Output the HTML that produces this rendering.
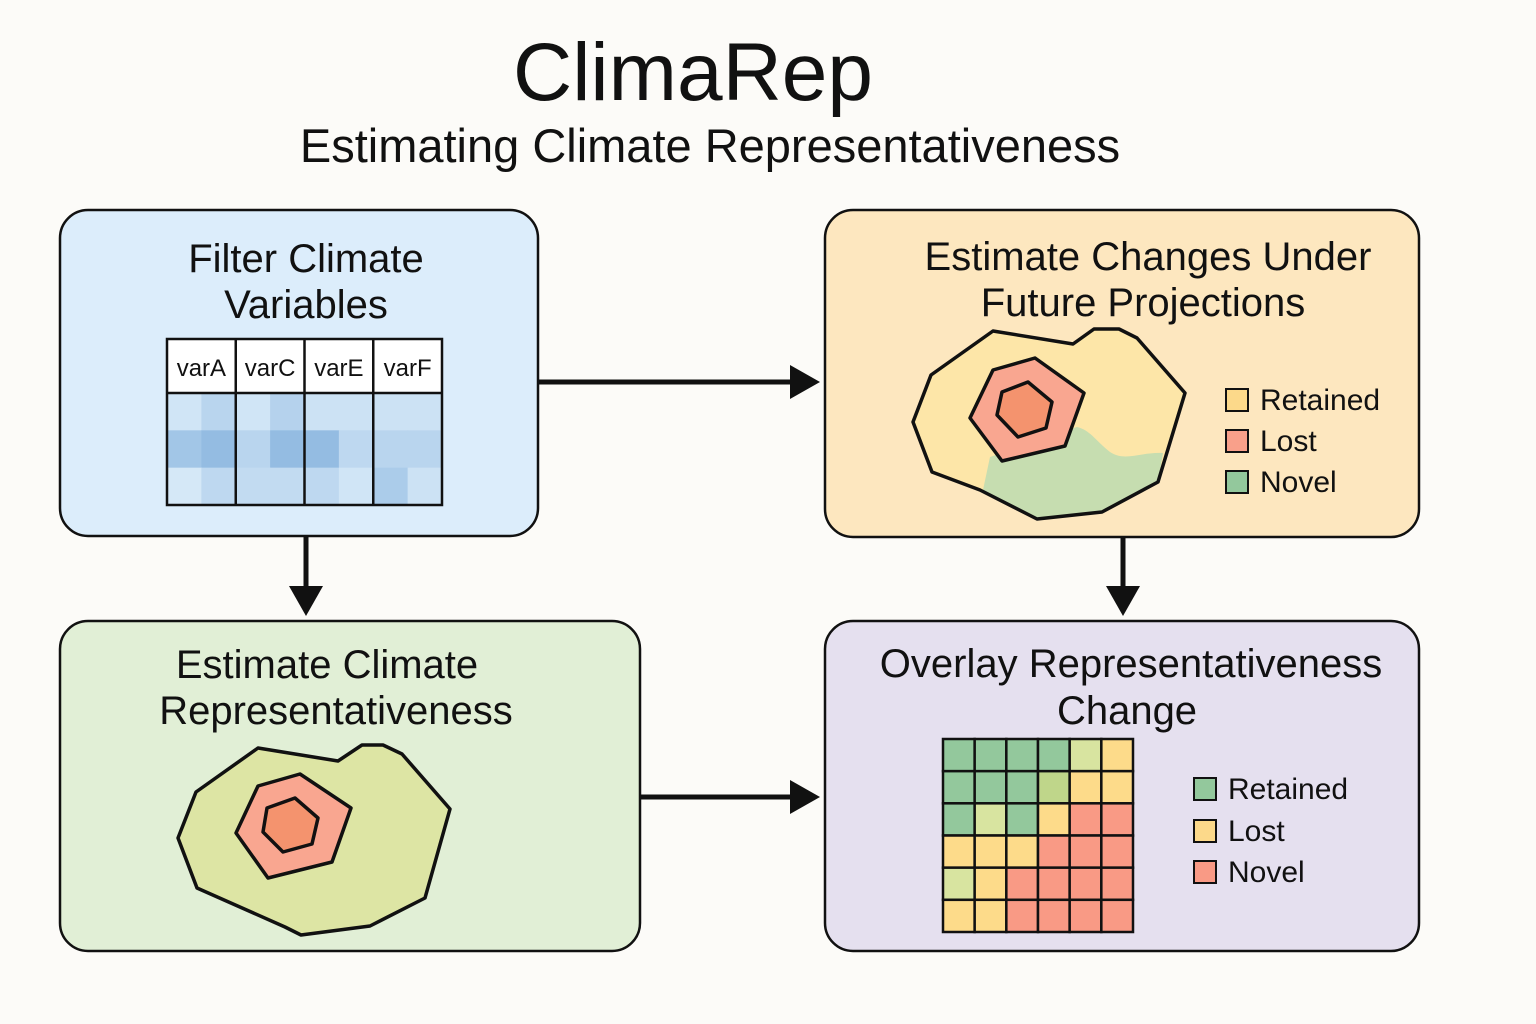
<!DOCTYPE html>
<html><head><meta charset="utf-8"><style>
html,body{margin:0;padding:0;background:#fcfbf8;}
svg{display:block;font-family:"Liberation Sans",sans-serif;}
</style></head><body>
<svg id="svg" width="1536" height="1024" viewBox="0 0 1536 1024">
<rect width="1536" height="1024" fill="#fcfbf8"/>
<text x="693" y="100" font-size="82" text-anchor="middle" fill="#111">ClimaRep</text>
<text x="710" y="162" font-size="47" text-anchor="middle" fill="#111">Estimating Climate Representativeness</text>

<g stroke="#111" stroke-width="5" fill="#111">
<line x1="538" y1="382" x2="795" y2="382"/>
<path d="M790,365 L820,382 L790,399 Z" stroke="none"/>
<line x1="306" y1="537" x2="306" y2="590"/>
<path d="M289,586 L306,616 L323,586 Z" stroke="none"/>
<line x1="1123" y1="537" x2="1123" y2="590"/>
<path d="M1106,586 L1123,616 L1140,586 Z" stroke="none"/>
<line x1="640" y1="797" x2="795" y2="797"/>
<path d="M790,780 L820,797 L790,814 Z" stroke="none"/>
</g>

<rect x="60" y="210" width="478" height="326" rx="28" fill="#dcedfb" stroke="#111" stroke-width="2.5"/>
<rect x="825" y="210" width="594" height="327" rx="28" fill="#fde7bf" stroke="#111" stroke-width="2.5"/>
<rect x="60" y="621" width="580" height="330" rx="28" fill="#e1efd6" stroke="#111" stroke-width="2.5"/>
<rect x="825" y="621" width="594" height="330" rx="28" fill="#e5e0ef" stroke="#111" stroke-width="2.5"/>

<g font-size="40" text-anchor="middle" fill="#111">
<text x="306" y="272">Filter Climate</text>
<text x="306" y="318">Variables</text>
<text x="1148" y="270">Estimate Changes Under</text>
<text x="1143" y="316">Future Projections</text>
<text x="327" y="678">Estimate Climate</text>
<text x="336" y="724">Representativeness</text>
<text x="1131" y="677">Overlay Representativeness</text>
<text x="1127" y="724">Change</text>
</g>

<g id="table"></g>

<g stroke-linejoin="round">
<polygon points="931,375 993,331 1073,344 1094,329 1119,329 1137,338 1185,393 1158,482 1102,512 1037,519 980,490 932,472 913,422" fill="#fde6a8" stroke="none"/>
<path d="M990,457 L983,490 L1037,519 L1102,512 L1158,482 L1163,453 C1140,452 1125,462 1110,452 C1095,440 1090,430 1077,427 Z" fill="#c6ddb0"/>
<polygon points="931,375 993,331 1073,344 1094,329 1119,329 1137,338 1185,393 1158,482 1102,512 1037,519 980,490 932,472 913,422" fill="none" stroke="#111" stroke-width="3.5"/>
<polygon points="970,418 993,370 1035,358 1084,393 1065,446 1002,461" fill="#f9a690" stroke="#111" stroke-width="3.5"/>
<polygon points="997,415 1002,392 1028,382 1052,402 1046,428 1018,437" fill="#f4936e" stroke="#111" stroke-width="3.5"/>
</g>

<g stroke-linejoin="round">
<polygon points="196,792 258,748 338,761 362,745 383,745 402,754 450,809 425,898 370,926 301,935 285,927 197,888 178,838" fill="#dde5a4" stroke="#111" stroke-width="3.5"/>
<polygon points="236,833 258,786 300,774 351,808 332,862 268,878" fill="#f9a690" stroke="#111" stroke-width="3.5"/>
<polygon points="263,832 267,808 295,798 318,818 312,844 283,852" fill="#f4936e" stroke="#111" stroke-width="3.5"/>
</g>

<g font-size="30" fill="#111">
<rect x="1226" y="389" width="22" height="22" fill="#fcd98a" stroke="#111" stroke-width="2"/>
<text x="1260" y="410">Retained</text>
<rect x="1226" y="430" width="22" height="22" fill="#f9a08a" stroke="#111" stroke-width="2"/>
<text x="1260" y="451">Lost</text>
<rect x="1226" y="471" width="22" height="22" fill="#93c89c" stroke="#111" stroke-width="2"/>
<text x="1260" y="492">Novel</text>

<rect x="1194" y="778" width="22" height="22" fill="#93c89c" stroke="#111" stroke-width="2"/>
<text x="1228" y="799">Retained</text>
<rect x="1194" y="820" width="22" height="22" fill="#fcd98a" stroke="#111" stroke-width="2"/>
<text x="1228" y="841">Lost</text>
<rect x="1194" y="861" width="22" height="22" fill="#f99a85" stroke="#111" stroke-width="2"/>
<text x="1228" y="882">Novel</text>
</g>

<g id="grid"></g>
</svg>
<script>
const NS = "http://www.w3.org/2000/svg";
// Table data
const varNames = ["varA","varC","varE","varF"];
const tableShades = [ // per row, 8 subcells (2 per variable), intensity 0..1
  [0.15,0.40, 0.15,0.45, 0.20,0.20, 0.20,0.20],
  [0.65,0.80, 0.40,0.80, 0.80,0.35, 0.40,0.40],
  [0.10,0.35, 0.30,0.30, 0.35,0.15, 0.55,0.20]
];
// Overlay grid data: G retained-green, Y pale, L olive, O lost-yellow, R novel-red
const gridRows = ["GGGGYO","GGGLOO","GYGORR","OOORRR","YORRRR","OORRRR"];
const gridColors = {G:"#93c89c", Y:"#d8e4a0", L:"#bfd68a", O:"#fddb8a", R:"#f99a85"};

function mk(tag, attrs, parent){const e=document.createElementNS(NS,tag);for(const k in attrs)e.setAttribute(k,attrs[k]);parent.appendChild(e);return e;}
function shade(t){const a=[222,238,250],b=[130,176,220];return "rgb("+a.map((v,i)=>Math.round(v+(b[i]-v)*t)).join(",")+")";}

const table=document.getElementById("table");
const tx0=167, tx1=442, ty0=339, thead=54, ty1=505;
const colW=(tx1-tx0)/varNames.length, rowH=(ty1-ty0-thead)/tableShades.length;
tableShades.forEach((row,r)=>{row.forEach((v,c)=>{
  const e=mk("rect",{x:tx0+c*colW/2,y:ty0+thead+r*rowH,width:colW/2+0.5,height:rowH+0.5,fill:shade(v)},table);
  
  
});});
const hdr=mk("rect",{x:tx0,y:ty0,width:tx1-tx0,height:thead,fill:"#fff"},table);


varNames.forEach((n,i)=>{
  const t=mk("text",{x:tx0+i*colW+colW/2,y:ty0+37,"font-size":24,"text-anchor":"middle",fill:"#111"},table);
  t.textContent=n;
  
  
  if(i>0){const l=mk("line",{x1:tx0+i*colW,y1:ty0,x2:tx0+i*colW,y2:ty1,stroke:"#111","stroke-width":2.5},table);
    
    }
});
const hl=mk("line",{x1:tx0,y1:ty0+thead,x2:tx1,y2:ty0+thead,stroke:"#111","stroke-width":2.5},table);


const tb=mk("rect",{x:tx0,y:ty0,width:tx1-tx0,height:ty1-ty0,fill:"none",stroke:"#111","stroke-width":2.5},table);



const grid=document.getElementById("grid");
const gx0=943, gy0=739, gx1=1133, gy1=932;
const cw=(gx1-gx0)/gridRows[0].length, ch=(gy1-gy0)/gridRows.length;
gridRows.forEach((row,r)=>{[...row].forEach((k,c)=>{
  const e=mk("rect",{x:gx0+c*cw,y:gy0+r*ch,width:cw,height:ch,fill:gridColors[k],stroke:"#111","stroke-width":2.5},grid);
  
  
});});
</script>
</body></html>
